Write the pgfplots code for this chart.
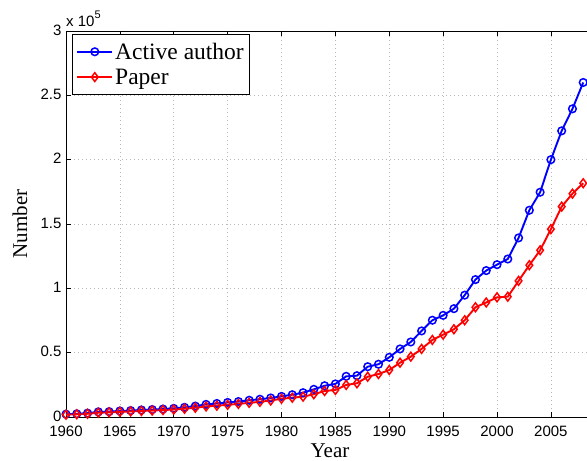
\documentclass[border=0pt]{standalone}
\usepackage{pgfplots}
\pgfplotsset{compat=1.18}
\usepackage{pgfplotstable}
\usepackage{fontspec}
\setmainfont{Liberation Serif}
\newfontfamily\ticksans{Liberation Sans}

% Yearly counts, in units of 10^5
\pgfplotstableread{
year author paper
1960 0.022 0.018
1961 0.025 0.021
1962 0.030 0.025
1963 0.040 0.033
1964 0.042 0.036
1965 0.047 0.040
1966 0.050 0.043
1967 0.055 0.047
1968 0.058 0.050
1969 0.062 0.054
1970 0.067 0.058
1971 0.075 0.064
1972 0.085 0.072
1973 0.098 0.082
1974 0.105 0.088
1975 0.113 0.095
1976 0.120 0.102
1977 0.130 0.110
1978 0.138 0.118
1979 0.148 0.128
1980 0.160 0.142
1981 0.173 0.150
1982 0.189 0.158
1983 0.215 0.177
1984 0.243 0.202
1985 0.257 0.210
1986 0.316 0.249
1987 0.321 0.262
1988 0.391 0.313
1989 0.410 0.334
1990 0.464 0.365
1991 0.529 0.422
1992 0.583 0.469
1993 0.669 0.529
1994 0.752 0.599
1995 0.790 0.640
1996 0.842 0.682
1997 0.947 0.752
1998 1.068 0.853
1999 1.138 0.890
2000 1.184 0.930
2001 1.228 0.935
2002 1.392 1.058
2003 1.607 1.180
2004 1.747 1.296
2005 2.000 1.460
2006 2.224 1.635
2007 2.395 1.736
2008 2.600 1.817
}\counts

\begin{document}
\begin{tikzpicture}[x=1pt,y=1pt]
\useasboundingbox (-66,-44) rectangle (521,417);
\begin{axis}[
  name=ax,
  at={(0,0)}, anchor=south west,
  scale only axis, width=528pt, height=386pt,
  xmin=1960, xmax=2009, ymin=0, ymax=3,
  xtick={1960,1965,...,2005},
  ytick={0,0.5,1,1.5,2,2.5,3},
  grid=major,
  major grid style={gray!55, line width=0.6pt, dash pattern=on 0.8pt off 3.2pt},
  tick align=inside, major tick length=5pt,
  tick style={black, line width=0.6pt},
  axis line style={black, line width=0.7pt},
  /pgf/number format/assume math mode=true,
  /pgf/number format/set thousands separator={},
  ticklabel style={font=\ticksans\fontsize{15}{18}\selectfont},
  xticklabel style={yshift=-5pt},
  yticklabel style={xshift=-1pt, yshift=1pt},
  xlabel={Year}, ylabel={Number},
  label style={font=\fontsize{21}{25}\selectfont},
  xlabel style={at={(axis description cs:0.5,0)}, anchor=base, yshift=-40pt},
  ylabel style={at={(axis description cs:-0.0871,0.5)}, anchor=center},
  legend cell align=left,
  legend image code/.code={\draw[mark repeat=2,mark phase=2,#1] plot coordinates {(0pt,0pt) (17.5pt,0pt) (35pt,0pt)};},
  legend style={at={(axis description cs:0,1)}, anchor=north west,
    xshift=6pt, yshift=-3pt, draw=black, line width=0.7pt, fill=white,
    font=\fontsize{23.5}{26}\selectfont, inner xsep=4pt, inner ysep=6.5pt, row sep=4pt},
]
\addplot[blue, line width=1.9pt, mark=o, mark size=3.8pt,
  mark options={solid, line width=1.5pt}] table[x=year, y=author] {\counts};
\addlegendentry{Active author}
\addplot[red, line width=1.9pt, mark=diamond, mark size=4.4pt,
  mark options={solid, line width=1.5pt}] table[x=year, y=paper] {\counts};
\addlegendentry{Paper}
\end{axis}
\node[anchor=base west, inner sep=0pt, font=\ticksans\fontsize{15}{18}\selectfont]
  at ([yshift=4pt]ax.north west) {x 10\raisebox{0.55em}{\fontsize{11}{12}\selectfont 5}};
\end{tikzpicture}
\end{document}
